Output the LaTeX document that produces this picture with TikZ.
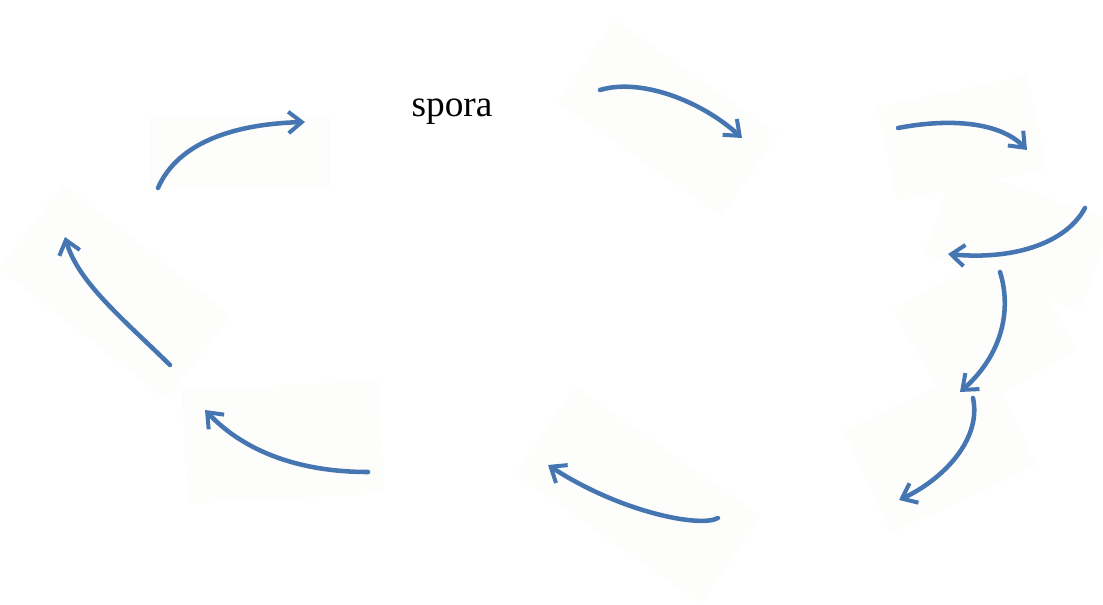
\documentclass[tikz,border=0pt]{standalone}
\usepackage{fontspec}
\setmainfont{Liberation Serif}
\usetikzlibrary{arrows.meta}
\definecolor{arrowblue}{HTML}{4676B2}
\definecolor{patch}{HTML}{FDFDFC}
\tikzset{
  cyclearrow/.style={draw=arrowblue, line width=3.4pt, line cap=round,
    -{Straight Barb[length=10pt,width=16pt,line width=3pt]}},
  patchbox/.style={fill=patch, draw=none, inner sep=0pt},
}
\begin{document}
\begin{tikzpicture}[x=0.75pt,y=-0.75pt]
\useasboundingbox (0,0) rectangle (1103,605);
% faint background patches
\node[patchbox, minimum width=150pt, minimum height=75pt, rotate=-35] (p5) at (668,118) {};
\node[patchbox, minimum width=115pt, minimum height=72pt, rotate=12] (p6) at (962,138) {};
\node[patchbox, minimum width=125pt, minimum height=72pt, rotate=-20] (p7) at (1018,238) {};
\node[patchbox, minimum width=105pt, minimum height=95pt, rotate=30] (p8) at (985,330) {};
\node[patchbox, minimum width=120pt, minimum height=85pt, rotate=25] (p9) at (940,448) {};
\node[patchbox, minimum width=170pt, minimum height=80pt, rotate=-35] (p4) at (638,495) {};
\node[patchbox, minimum width=148pt, minimum height=85pt, rotate=3] (p3) at (283,442) {};
\node[patchbox, minimum width=160pt, minimum height=80pt, rotate=-38] (p2) at (115,292) {};
\node[patchbox, minimum width=135pt, minimum height=55pt] (p1) at (240,152) {};
% text
\node[anchor=base, font=\fontsize{28pt}{32pt}\selectfont, inner sep=0pt] (spora) at (452,117) {spora};
% arrow end points
\coordinate (a1s) at (158,188); \coordinate (a1e) at (305,122);
\coordinate (a2s) at (170,365); \coordinate (a2e) at (65,237);
\coordinate (a3s) at (368,472); \coordinate (a3e) at (205,410);
\coordinate (a4s) at (718,518); \coordinate (a4e) at (548,465);
\coordinate (a5s) at (600,90);  \coordinate (a5e) at (742,138);
\coordinate (a6s) at (898,128); \coordinate (a6e) at (1027,150);
\coordinate (a7s) at (1085,208); \coordinate (a7e) at (948,254);
\coordinate (a8s) at (1000,272); \coordinate (a8e) at (960,392);
\coordinate (a9s) at (973,398); \coordinate (a9e) at (899,500);
% arrows
\draw[cyclearrow] (a1s) .. controls (178,142) and (235,124) .. (a1e);
\draw[cyclearrow] (a2s) .. controls (122,318) and (78,282) .. (a2e);
\draw[cyclearrow] (a3s) .. controls (300,472) and (245,452) .. (a3e);
\draw[cyclearrow] (a4s) .. controls (700,528) and (620,512) .. (a4e);
\draw[cyclearrow] (a5s) .. controls (640,78) and (700,100) .. (a5e);
\draw[cyclearrow] (a6s) .. controls (950,118) and (1000,122) .. (a6e);
\draw[cyclearrow] (a7s) .. controls (1065,245) and (1010,260) .. (a7e);
\draw[cyclearrow] (a8s) .. controls (1012,310) and (1002,355) .. (a8e);
\draw[cyclearrow] (a9s) .. controls (982,440) and (942,480) .. (a9e);
\end{tikzpicture}
\end{document}
